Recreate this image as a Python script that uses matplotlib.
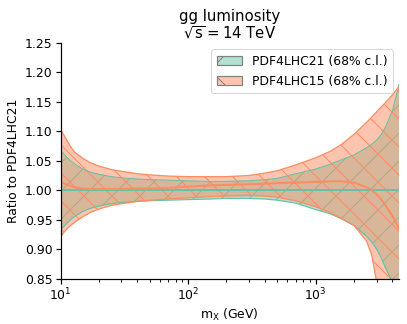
import matplotlib
matplotlib.use("Agg")
import matplotlib.pyplot as plt
from matplotlib.patches import Patch
from matplotlib.colors import to_rgba

# ---- data ----
mass = [10, 11, 12, 13, 15, 17, 20, 25, 30, 40, 50, 70, 100, 150, 200, 300,
        400, 500, 700, 1000, 1300, 1600, 2000, 2500, 2750, 3000, 3250, 3500, 4000, 4500]

pdf21_central = [1.0] * len(mass)
pdf21_upper = [1.068, 1.058, 1.050, 1.044, 1.036, 1.031, 1.027, 1.023, 1.021, 1.019,
               1.018, 1.017, 1.016, 1.015, 1.015, 1.016, 1.018, 1.020, 1.028, 1.036,
               1.044, 1.052, 1.060, 1.072, 1.078, 1.085, 1.094, 1.106, 1.135, 1.180]
pdf21_lower = [0.932, 0.942, 0.950, 0.956, 0.964, 0.969, 0.973, 0.977, 0.979, 0.981,
               0.982, 0.983, 0.984, 0.985, 0.986, 0.986, 0.985, 0.983, 0.978, 0.967,
               0.960, 0.951, 0.940, 0.922, 0.912, 0.900, 0.886, 0.870, 0.843, 0.800]

pdf15_central = [1.014, 1.010, 1.007, 1.005, 1.003, 1.002, 1.002, 1.002, 1.002, 1.003,
                 1.003, 1.004, 1.006, 1.008, 1.009, 1.010, 1.011, 1.012, 1.013, 1.014,
                 1.015, 1.015, 1.013, 1.005, 1.000, 0.993, 0.985, 0.975, 0.956, 0.935]
pdf15_upper = [1.103, 1.088, 1.074, 1.064, 1.054, 1.047, 1.041, 1.035, 1.032, 1.028,
               1.026, 1.024, 1.023, 1.023, 1.023, 1.025, 1.029, 1.033, 1.043, 1.055,
               1.066, 1.078, 1.095, 1.115, 1.124, 1.133, 1.141, 1.148, 1.162, 1.176]
pdf15_lower = [0.921, 0.932, 0.940, 0.946, 0.955, 0.962, 0.968, 0.974, 0.977, 0.981,
               0.983, 0.985, 0.987, 0.989, 0.990, 0.991, 0.990, 0.988, 0.982, 0.972,
               0.962, 0.952, 0.940, 0.914, 0.890, 0.845, 0.790, 0.730, 0.650, 0.580]

yticks = [0.85, 0.90, 0.95, 1.00, 1.05, 1.10, 1.15, 1.20, 1.25]
labels = ["PDF4LHC21 (68% c.l.)", "PDF4LHC15 (68% c.l.)"]
title = "gg luminosity\n$\\sqrt{\\mathrm{s}} = 14$ TeV"
xlabel = "$\\mathrm{m_X}$ (GeV)"
ylabel = "Ratio to PDF4LHC21"

# ---- style ----
DPI = 168
px = 72.0 / DPI  # points per pixel
green = "#66c2a5"
orange = "#fc8d62"
fs = 12.4 * px
plt.rcParams["font.family"] = ["DejaVu Sans"]
plt.rcParams["hatch.linewidth"] = 1.0 * px
plt.rcParams["mathtext.fontset"] = "dejavusans"

fig = plt.figure(figsize=(407 / DPI, 324 / DPI), dpi=DPI)
ax = fig.add_axes([60.5 / 407, 1 - 278.5 / 324, (399 - 60.5) / 407, (278.5 - 43) / 324])

ax.fill_between(mass, pdf21_lower, pdf21_upper, facecolor=to_rgba(green, 0.5),
                edgecolor=to_rgba(green, 1.0), hatch="//", linewidth=0)
ax.plot(mass, pdf21_upper, color=green, lw=1.0 * px)
ax.plot(mass, pdf21_lower, color=green, lw=1.2 * px)
ax.fill_between(mass, pdf15_lower, pdf15_upper, facecolor=to_rgba(orange, 0.5),
                edgecolor=to_rgba(orange, 1.0), hatch="\\\\", linewidth=0)
ax.plot(mass, pdf15_upper, color=orange, lw=1.3 * px)
ax.plot(mass, pdf15_lower, color=orange, lw=1.3 * px)
ax.plot(mass, pdf21_central, color=green, lw=2.0 * px)
ax.plot(mass, pdf15_central, color=orange, lw=2.0 * px)

ax.set_xscale("log")
ax.set_xlim(mass[0], mass[-1])
ax.set_ylim(yticks[0], yticks[-1])
ax.set_yticks(yticks)
ax.set_yticklabels([f"{v:.2f}" for v in yticks])
ax.spines["top"].set_visible(False)
ax.spines["right"].set_visible(False)
for s in ("left", "bottom"):
    ax.spines[s].set_linewidth(1.2 * px)
ax.tick_params(which="major", labelsize=fs, length=5 * px, width=1.2 * px, pad=3 * px)
ax.tick_params(which="minor", length=3 * px, width=0.9 * px)

ax.set_xlabel(xlabel, fontsize=fs, labelpad=4 * px)
ax.set_ylabel(ylabel, fontsize=fs, labelpad=5 * px)
ax.set_title(title, fontsize=14.9 * px, pad=5 * px, linespacing=1.0)

handles = [Patch(facecolor=to_rgba(green, 0.5), edgecolor="0.5", hatch="//", linewidth=1.2 * px),
           Patch(facecolor=to_rgba(orange, 0.5), edgecolor="0.5", hatch="\\\\", linewidth=1.2 * px)]
leg = ax.legend(handles, labels, loc="upper right", fontsize=fs, frameon=True,
                borderaxespad=0.5, handlelength=2.0, borderpad=0.45, labelspacing=0.55,
                handletextpad=0.8)
leg.get_frame().set_linewidth(1.0 * px)

fig.savefig("out.png", dpi=DPI)
